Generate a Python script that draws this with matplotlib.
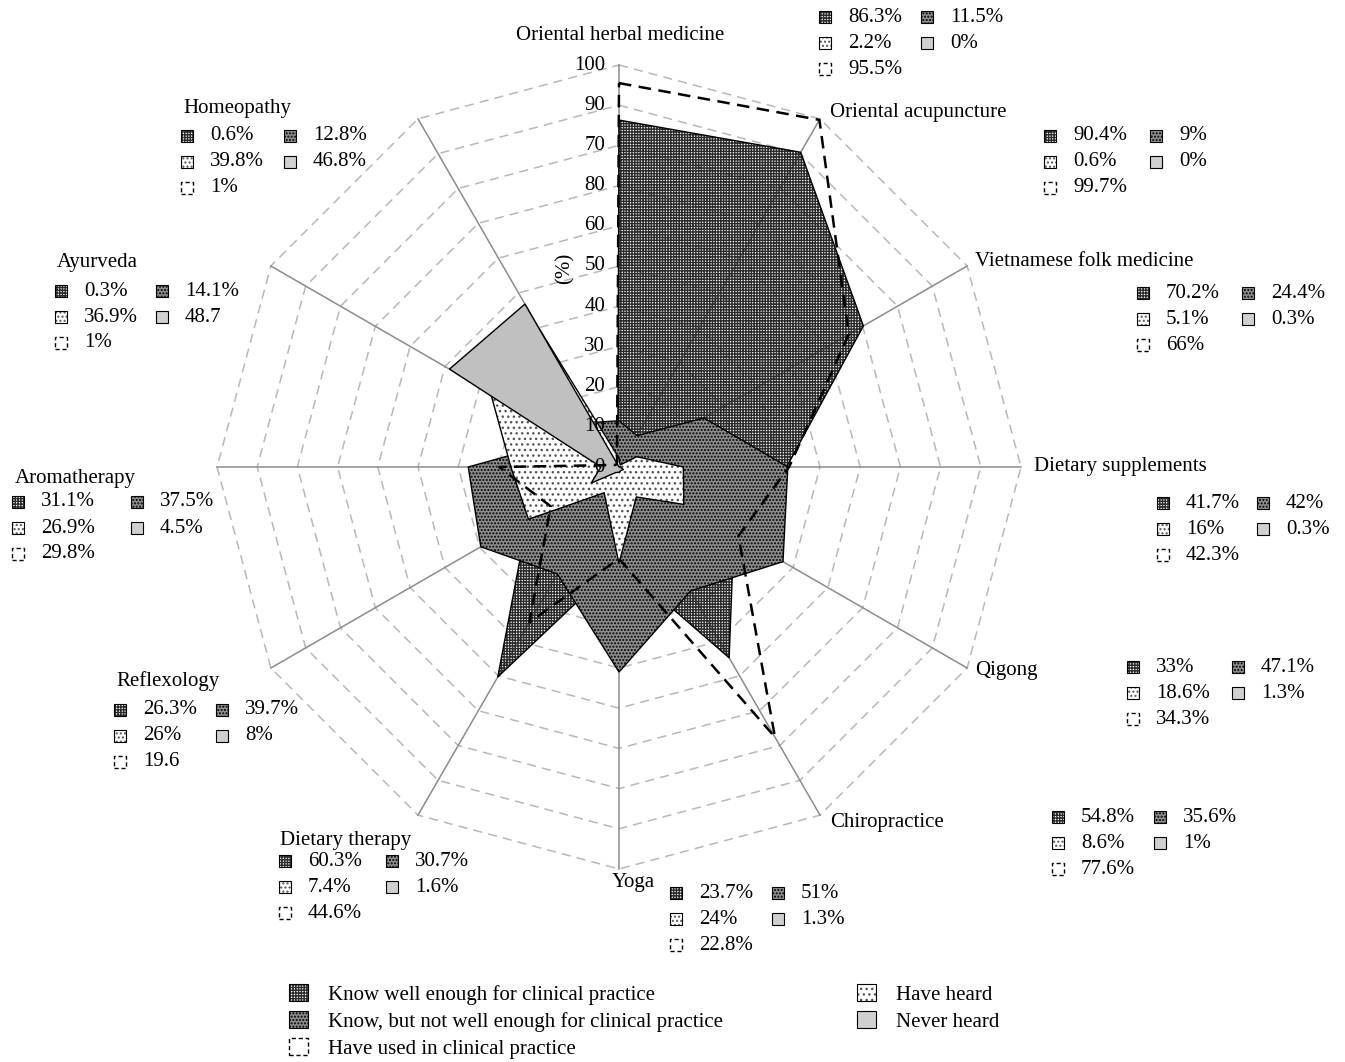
import numpy as np
import matplotlib
matplotlib.use('Agg')
import matplotlib.pyplot as plt
from matplotlib.patches import Rectangle, Patch

plt.rcParams['font.family'] = ['Liberation Serif', 'DejaVu Serif']
plt.rcParams['hatch.linewidth'] = 1.0

# data, clockwise from the top
categories = ['Oriental herbal medicine', 'Oriental acupuncture', 'Vietnamese folk medicine',
              'Dietary supplements', 'Qigong', 'Chiropractice', 'Yoga', 'Dietary therapy',
              'Reflexology', 'Aromatherapy', 'Ayurveda', 'Homeopathy']
know_well = [86.3, 90.4, 70.2, 41.7, 33, 54.8, 23.7, 60.3, 26.3, 31.1, 0.3, 0.6]
know_not = [11.5, 9, 24.4, 42, 47.1, 35.6, 51, 30.7, 39.7, 37.5, 14.1, 12.8]
heard = [2.2, 0.6, 5.1, 16, 18.6, 8.6, 24, 7.4, 26, 26.9, 36.9, 39.8]
never = [0, 0, 0.3, 0.3, 1.3, 1, 1.3, 1.6, 8, 4.5, 48.7, 46.8]
used = [95.5, 99.7, 66, 42.3, 34.3, 77.6, 22.8, 44.6, 19.6, 29.8, 1, 1]

r_ticks = [0, 10, 20, 30, 40, 50, 60, 70, 80, 90, 100]
r_tick_labels = ['0', '10', '20', '30', '40', '50', '60', '80', '70', '90', '100']  # as printed

legend_labels = ['Know well enough for clinical practice',
                 'Know, but not well enough for clinical practice',
                 'Have used in clinical practice',
                 'Have heard', 'Never heard']

# values printed without a % sign in the source
no_pct = {('Ayurveda', 'never'), ('Reflexology', 'used')}

# layout in image pixels: label (x, y, ha), block (marker x, first row y, 2nd column offset)
label_pos = [(620, 35, 'center'), (830, 112, 'left'), (975, 261, 'left'), (1034, 467, 'left'),
             (975, 671, 'left'), (830, 823, 'left'), (612, 882, 'left'), (280, 840, 'left'),
             (116, 681, 'left'), (15, 478, 'left'), (57, 262, 'left'), (183, 108, 'left')]
block_pos = [(825, 17, 102), (1050, 136, 106), (1143, 293, 105), (1163, 503, 100),
             (1133, 667, 105), (1058, 817, 102), (676, 893, 102), (285, 861, 107),
             (120, 710, 102), (18, 502, 119), (61, 291, 101), (187, 136, 103)]

W, H = 1345, 1062
FS = 15

WELL_HATCH = '++++++'
WELL_INK = '#2a2a2a'
NOT_FACE = '#8e8e8e'
NOT_HATCH = '.....'
HEARD_INK = '#555555'
NEVER_FACE = '#c0c0c0'


def fx(x):
    return x / W


def fy(y):
    return 1 - y / H


def closed(v):
    return list(v) + [v[0]]


fig = plt.figure(figsize=(W / 100, H / 100), dpi=100)
cx, cy, R = 619, 467, 402
ax = fig.add_axes([fx(cx - R), fy(cy + R), 2 * R / W, 2 * R / H], projection='polar')
ax.set_theta_zero_location('N')
ax.set_theta_direction(-1)
ax.set_ylim(0, 100)
ax.set_axis_off()

theta = np.linspace(0, 2 * np.pi, len(categories), endpoint=False)
theta_c = closed(theta)

# polygon grid and spokes
for r in r_ticks[1:]:
    ax.plot(theta_c, [r] * len(theta_c), color='#b8b8b8', lw=1.1, ls=(0, (6, 4)),
            zorder=1, clip_on=False)
for t in theta:
    ax.plot([t, t], [0, 100], color='#8c8c8c', lw=1.1, zorder=1.5, clip_on=False)

# series
ax.fill(theta_c, closed(know_well), facecolor='none', edgecolor=WELL_INK, hatch=WELL_HATCH,
        lw=0, zorder=2)
ax.plot(theta_c, closed(know_well), color='black', lw=1, zorder=2.1)
ax.fill(theta_c, closed(know_not), facecolor=NOT_FACE, edgecolor='black', hatch=NOT_HATCH,
        lw=1, zorder=3)
ax.fill(theta_c, closed(heard), facecolor='white', edgecolor=HEARD_INK, hatch='...',
        lw=0, zorder=4)
ax.plot(theta_c, closed(heard), color='black', lw=1, zorder=4.1)
ax.fill(theta_c, closed(never), facecolor=NEVER_FACE, edgecolor='black', lw=1, zorder=5)
ax.plot(theta_c, closed(used), color='black', lw=1.8, ls=(0, (5, 3)), zorder=6,
        clip_on=False)

for r, lbl in zip(r_ticks, r_tick_labels):
    ax.annotate(lbl, xy=(0, r), xytext=(-10, 0), textcoords='offset points',
                ha='right', va='center', fontsize=FS, zorder=7, annotation_clip=False)
fig.text(fx(565), fy(268), '(%)', rotation=90, ha='center', va='center', fontsize=FS)


def marker(x, y, kind, size=12):
    box = (fx(x - size / 2), fy(y + size / 2))
    w, h = size / W, size / H
    if kind == 'well':
        pats = [Rectangle(box, w, h, facecolor='white', edgecolor=WELL_INK, hatch=WELL_HATCH, lw=0),
                Rectangle(box, w, h, facecolor='none', edgecolor='black', lw=0.8)]
    elif kind == 'not':
        pats = [Rectangle(box, w, h, facecolor=NOT_FACE, edgecolor='black', hatch=NOT_HATCH, lw=0.8)]
    elif kind == 'heard':
        pats = [Rectangle(box, w, h, facecolor='white', edgecolor=HEARD_INK, hatch='....', lw=0),
                Rectangle(box, w, h, facecolor='none', edgecolor='black', lw=0.8)]
    elif kind == 'never':
        pats = [Rectangle(box, w, h, facecolor='#d0d0d0', edgecolor='black', lw=0.8)]
    else:
        pats = [Rectangle(box, w, h, facecolor='none', edgecolor='black', lw=1, ls=(0, (3, 2)))]
    for p in pats:
        p.set_transform(fig.transFigure)
        fig.add_artist(p)


def fmt(v, cat, key):
    s = f'{v:g}'
    return s if (cat, key) in no_pct else s + '%'


for i, cat in enumerate(categories):
    lx, ly, ha = label_pos[i]
    fig.text(fx(lx), fy(ly), cat, ha=ha, va='center', fontsize=FS)
    mx, my, off = block_pos[i]
    rows = [[('well', know_well), ('not', know_not)],
            [('heard', heard), ('never', never)],
            [('used', used)]]
    for j, row in enumerate(rows):
        y = my + 26 * j
        for k, (key, series) in enumerate(row):
            x = mx + off * k
            marker(x, y, key)
            fig.text(fx(x + 23), fy(y), fmt(series[i], cat, key), ha='left', va='center',
                     fontsize=FS)

# legend
h_well = (Patch(facecolor='white', edgecolor=WELL_INK, hatch=WELL_HATCH, lw=0),
          Patch(facecolor='none', edgecolor='black', lw=0.8))
h_not = Patch(facecolor=NOT_FACE, edgecolor='black', hatch=NOT_HATCH, lw=0.8)
h_used = Patch(facecolor='none', edgecolor='black', lw=1, ls=(0, (3, 2)))
h_heard = (Patch(facecolor='white', edgecolor=HEARD_INK, hatch='...', lw=0),
           Patch(facecolor='none', edgecolor='black', lw=0.8))
h_never = Patch(facecolor='#d0d0d0', edgecolor='black', lw=0.8)

leg_kw = dict(frameon=False, fontsize=FS, handlelength=0.9, handleheight=0.9,
              handletextpad=0.95, labelspacing=0.3, borderpad=0, borderaxespad=0,
              loc='upper left')
fig.legend([h_well, h_not, h_used], legend_labels[:3],
           bbox_to_anchor=(fx(289), fy(984)), **leg_kw)
fig.legend([h_heard, h_never], legend_labels[3:],
           bbox_to_anchor=(fx(857), fy(984)), **leg_kw)

fig.savefig('out.png', dpi=100)
